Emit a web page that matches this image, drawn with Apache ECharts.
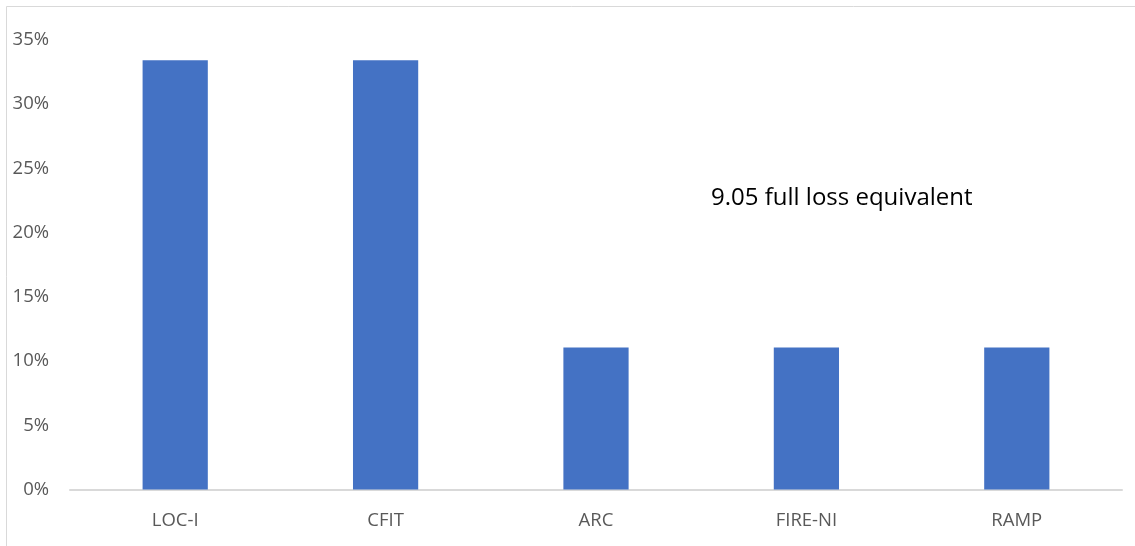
<!DOCTYPE html>
<html>
<head>
<meta charset="utf-8">
<script src="https://cdn.jsdelivr.net/npm/echarts@6/dist/echarts.min.js"></script>
<style>
html, body { margin: 0; padding: 0; background: #fff; }
#chart { width: 1135px; height: 546px; }
</style>
</head>
<body>
<div id="chart"></div>
<script>
// Accident categories and their share of full-loss equivalents
const categories = ['LOC-I', 'CFIT', 'ARC', 'FIRE-NI', 'RAMP'];
const shares = [0.3343, 0.3343, 0.1105, 0.1105, 0.1105];
const noteText = '9.05 full loss equivalent';

const FONT = '"Open Sans", "Noto Sans", sans-serif';
const chart = echarts.init(document.getElementById('chart'));

chart.setOption({
  animation: false,
  backgroundColor: '#fff',
  grid: { left: 70, right: 13, top: 40, bottom: 56.5, containLabel: false },
  xAxis: {
    type: 'category',
    data: categories,
    axisLine: { lineStyle: { color: '#d9d9d9', width: 2 } },
    axisTick: { show: false },
    axisLabel: { color: '#595959', fontSize: 18.5, fontFamily: FONT, margin: 22 }
  },
  yAxis: {
    type: 'value',
    min: 0,
    max: 0.35,
    interval: 0.05,
    splitLine: { show: false },
    axisLine: { show: false },
    axisTick: { show: false },
    axisLabel: {
      color: '#595959', fontSize: 18.5, fontFamily: FONT, margin: 21,
      formatter: v => Math.round(v * 100) + '%'
    }
  },
  series: [{
    type: 'bar',
    data: shares,
    barWidth: '31%',
    itemStyle: { color: '#4472c4' }
  }],
  graphic: [
    {
      type: 'rect',
      shape: { x: 6.5, y: 6.5, width: 1200, height: 600 },
      style: { fill: 'none', stroke: '#d9d9d9', lineWidth: 1 },
      silent: true
    },
    {
      type: 'text',
      left: 711,
      top: 186,
      style: { text: noteText, fill: '#000', fontSize: 24, fontFamily: FONT }
    }
  ]
});
</script>
</body>
</html>
